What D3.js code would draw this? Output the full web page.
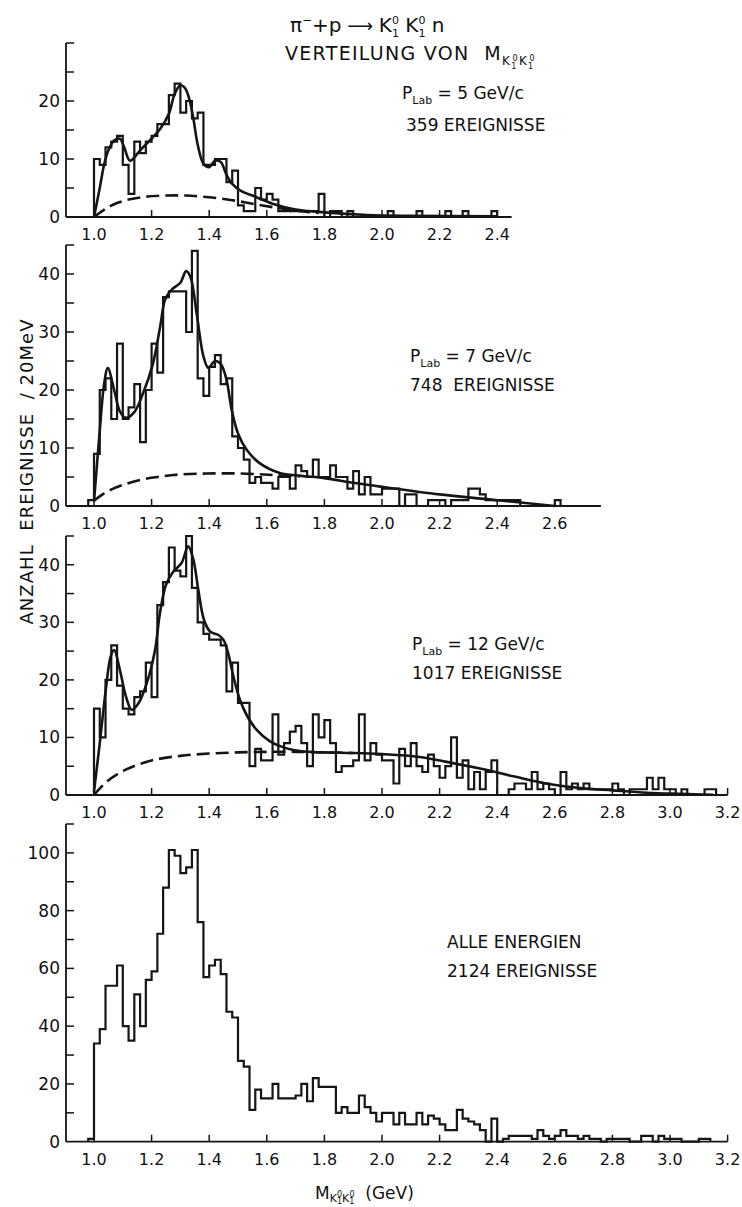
<!DOCTYPE html>
<html><head><meta charset="utf-8">
<script src="https://cdn.jsdelivr.net/npm/d3@7"></script>
<style>
body{margin:0;background:#fff}
svg{display:block}
text{font-family:"DejaVu Sans",sans-serif;fill:#111;white-space:pre}
</style>
</head><body>
<svg id="c" width="742" height="1207"></svg>
<script>
// ---------------- data ----------------
const binWidth = 0.02; // GeV (20 MeV)

const p1Start = 1.00;
const p1Counts = [10,9,12,13,14,9,4,13,11,13, 14,16,16,21,23,18,20,17,18,9,
  9,10,10,6,8,2,1,1,5,3, 4,3,1,1,1,1,1,1,1,4, 0,1,1,0,1,0,0,0,0,0,
  0,1,0,0,0,0,1,0,0,0, 0,1,0,0,1,0,0,0,0,1];
const p1Fit = [[1.00,0],[1.02,5],[1.035,9],[1.05,11.5],[1.07,13.2],[1.09,13.5],[1.105,12],[1.125,9.7],
  [1.16,11.5],[1.19,13],[1.23,15.2],[1.26,17.8],[1.28,21.2],[1.30,22.7],[1.315,22.3],[1.33,20.5],
  [1.345,17],[1.36,12.5],[1.38,9.2],[1.40,8.6],[1.42,9.7],[1.44,9.5],[1.46,7.3],[1.48,5.7],[1.51,4.5],
  [1.56,3.5],[1.62,2.3],[1.70,1.3],[1.80,0.8],[1.95,0.35],[2.10,0.2],[2.40,0.1]];
const p1Bg = [[1.00,0],[1.04,1.4],[1.08,2.4],[1.12,3.0],[1.18,3.5],[1.25,3.7],[1.32,3.7],[1.40,3.4],
  [1.48,2.9],[1.55,2.3],[1.62,1.7],[1.70,1.1],[1.78,0.7]];

const p2Start = 0.98;
const p2Counts = [1,9,20,22,15,28,15,17,21,11, 20,28,23,36,37,37,37,30,44,22,
  19,24,26,21,22,12,10,8,4,5, 4,4,3,5,5,3,7,6,5,8,
  5,5,7,5,5,3,6,2,5,2, 2,3,3,3,0,2,2,0,0,1, 1,1,0,1,1,1,3,3,2,1,
  1,1,1,1,1,0,0,0,0,0, 0,1];
const p2Fit = [[1.00,0.8],[1.02,13],[1.035,21],[1.048,23.8],[1.07,20],[1.09,16.3],[1.11,15.2],[1.14,16.2],
  [1.17,19.4],[1.205,24.6],[1.23,31],[1.247,35.6],[1.27,37.3],[1.30,38.5],[1.32,40.5],[1.335,39.5],
  [1.357,33],[1.38,25.8],[1.397,23.8],[1.42,25],[1.44,24.5],[1.46,21.8],[1.478,16.6],[1.50,12.5],
  [1.53,9.7],[1.575,7.4],[1.645,5.7],[1.72,5.2],[1.80,4.8],[1.90,4.0],[2.00,3.3],[2.20,2.0],
  [2.40,1.0],[2.60,0]];
const p2Bg = [[1.00,0.9],[1.03,2.0],[1.067,3.0],[1.11,3.8],[1.16,4.5],[1.22,5.0],[1.275,5.35],
  [1.39,5.6],[1.506,5.6],[1.62,5.35],[1.715,5.1]];

const p3Start = 1.00;
const p3Counts = [15,10,20,26,19,15,14,17,18,23, 17,33,37,43,39,38,45,36,30,28,
  27,27,26,18,23,16,16,5,8,6, 6,14,7,9,11,12,
  9,5,14,10,13,9,4,5,5,6, 14,6,9,7,6,6,2,8,5,9, 5,4,7,5,3,5,10,3,6,1,
  4,1,4,6,0,0,1,2,2,1, 4,1,2,1,0,4,1,2,1,2, 1,1,1,1,2,1,0,1,1,1,
  3,1,3,1,1,0,1,0,0,0, 1,1];
const p3Fit = [[1.00,0.6],[1.02,9],[1.041,18.3],[1.058,24.1],[1.07,25.2],[1.09,21.7],[1.111,17.1],
  [1.131,14.8],[1.154,15.9],[1.183,19.4],[1.212,25.2],[1.229,31.6],[1.25,36.5],[1.275,38.8],
  [1.304,40.3],[1.327,43.2],[1.345,40.9],[1.362,35.7],[1.382,30.4],[1.403,28.4],[1.432,27.8],
  [1.449,27],[1.466,24.6],[1.484,20.6],[1.507,16.5],[1.53,13.9],[1.565,11.3],[1.611,9.3],
  [1.669,8.1],[1.72,7.6],[1.80,7.4],[1.90,7.3],[2.00,7.1],[2.13,6.6],[2.22,5.8],[2.34,4.6],
  [2.46,3.2],[2.57,2.0],[2.69,1.2],[2.80,0.8],[2.92,0.4],[3.04,0.2],[3.15,0.05]];
const p3Bg = [[1.00,0],[1.044,2.3],[1.11,4.4],[1.20,6.0],[1.30,6.8],[1.40,7.2],[1.50,7.4],
  [1.60,7.5],[1.70,7.5],[1.80,7.4],[1.90,7.3]];

const p4Start = 0.98;
const p4Counts = [1,34,39,54,54,61,40,35,51,40, 56,59,72,88,101,99,93,95,101,76,
  57,61,63,58,45,43,28,26,11,18, 15,15,20,15,15,15,16,20,14,22,
  19,19,19,10,12,10,10,16,12,10, 7,10,10,6,10,6,6,10,6,9,
  8,6,4,4,11,8,7,6,4,0, 8,0,1,2,2,2,2,1,4,2,
  1,2,4,2,2,1,2,1,1,0, 1,1,1,1,0,0,2,2,0,2,
  1,1,1,0,0,0,1,1];

const xTicksShort = ["1.0","1.2","1.4","1.6","1.8","2.0","2.2","2.4"];
const xTicksMid = ["1.0","1.2","1.4","1.6","1.8","2.0","2.2","2.4","2.6"];
const xTicksLong = ["1.0","1.2","1.4","1.6","1.8","2.0","2.2","2.4","2.6","2.8","3.0","3.2"];
const yLabels1 = [0,10,20];
const yLabels23 = [0,10,20,30,40];
const yLabels4 = [0,20,40,60,80,100];

// ---------------- drawing ----------------
const svg = d3.select("#c");
const ink = "#151515";
const x = d3.scaleLinear().domain([1.0, 3.2]).range([94, 727.6]);
const axisLeft = 66;

function rich(x0, y0, segs, opts) {
  opts = opts || {};
  const t = svg.append("text").attr("x", x0).attr("y", y0).attr("text-anchor", opts.anchor || "start");
  if (opts.ls) t.attr("letter-spacing", opts.ls);
  let prev = 0;
  segs.forEach(s => {
    const o = s.o || 0;
    const ts = t.append("tspan").text(s.t).attr("font-size", s.s).attr("dy", o - prev);
    if (s.dx) ts.attr("dx", s.dx);
    prev = o;
  });
  return t;
}

const panels = [
  {start:p1Start, counts:p1Counts, fit:p1Fit, bg:p1Bg, yMax:30, y0:217, y1:43, xEnd:2.45,
   ticks:xTicksShort, labels:yLabels1, minor:5},
  {start:p2Start, counts:p2Counts, fit:p2Fit, bg:p2Bg, yMax:45, y0:506, y1:245, xEnd:2.76,
   ticks:xTicksMid, labels:yLabels23, minor:5},
  {start:p3Start, counts:p3Counts, fit:p3Fit, bg:p3Bg, yMax:45, y0:795, y1:536, xEnd:3.2,
   ticks:xTicksLong, labels:yLabels23, minor:5},
  {start:p4Start, counts:p4Counts, fit:null, bg:null, yMax:110, y0:1141.7, y1:824, xEnd:3.2,
   ticks:xTicksLong, labels:yLabels4, minor:10}
];

panels.forEach(p => {
  const y = d3.scaleLinear().domain([0, p.yMax]).range([p.y0, p.y1]);
  const g = svg.append("g");
  g.append("line").attr("x1", axisLeft).attr("x2", x(p.xEnd)).attr("y1", p.y0).attr("y2", p.y0)
    .attr("stroke", ink).attr("stroke-width", 1.8);
  g.append("line").attr("x1", axisLeft).attr("x2", axisLeft).attr("y1", p.y0).attr("y2", p.y1)
    .attr("stroke", ink).attr("stroke-width", 1.8);
  p.ticks.forEach(t => {
    const v = +t;
    g.append("line").attr("x1", x(v)).attr("x2", x(v)).attr("y1", p.y0).attr("y2", p.y0 - 7)
      .attr("stroke", ink).attr("stroke-width", 1.5);
    g.append("text").attr("x", x(v)).attr("y", p.y0 + 23).attr("text-anchor", "middle")
      .attr("font-size", 16).text(t);
  });
  d3.range(0, p.yMax + 0.001, p.minor).forEach(v => {
    if (v === 0) return;
    g.append("line").attr("x1", axisLeft).attr("x2", axisLeft + 8).attr("y1", y(v)).attr("y2", y(v))
      .attr("stroke", ink).attr("stroke-width", 1.5);
  });
  p.labels.forEach(v => {
    g.append("text").attr("x", 60).attr("y", y(v) + 6).attr("text-anchor", "end")
      .attr("font-size", 17).text(v);
  });
  const pts = [[p.start, 0]];
  p.counts.forEach((c, i) => pts.push([p.start + i * binWidth, c]));
  pts.push([p.start + p.counts.length * binWidth, 0]);
  const step = d3.line().x(d => x(d[0])).y(d => y(d[1])).curve(d3.curveStepAfter);
  g.append("path").attr("d", step(pts)).attr("fill", "none").attr("stroke", ink)
    .attr("stroke-width", 2.2).attr("stroke-linejoin", "miter");
  const smooth = d3.line().x(d => x(d[0])).y(d => y(d[1])).curve(d3.curveCatmullRom.alpha(0.5));
  if (p.bg) g.append("path").attr("d", smooth(p.bg)).attr("fill", "none").attr("stroke", ink)
    .attr("stroke-width", 2.6).attr("stroke-dasharray", "13,6");
  if (p.fit) g.append("path").attr("d", smooth(p.fit)).attr("fill", "none").attr("stroke", ink)
    .attr("stroke-width", 2.6);
});

// ---------------- texts ----------------
rich(290, 32, [{t:"π",s:20},{t:"−",s:12,o:-8},{t:"+p",s:20,o:0},{t:" ⟶ ",s:18},{t:"K",s:20},
  {t:"1",s:11,o:5},{t:"0",s:11,o:-8,dx:-7},{t:" K",s:20,o:0},{t:"1",s:11,o:5},{t:"0",s:11,o:-8,dx:-7},
  {t:" n",s:20,o:0}]);
rich(285, 60, [{t:"VERTEILUNG VON  M",s:19},{t:"K",s:12,o:5},{t:"1",s:8,o:9},{t:"0",s:8,o:1,dx:-5},
  {t:"K",s:12,o:5},{t:"1",s:8,o:9},{t:"0",s:8,o:1,dx:-5}], {ls:1.3});

rich(402, 99, [{t:"P",s:17},{t:"Lab",s:11,o:5},{t:" = 5 GeV/c",s:17,o:0}]);
rich(406, 131, [{t:"359 EREIGNISSE",s:17}]);
rich(410, 362, [{t:"P",s:17},{t:"Lab",s:11,o:5},{t:" = 7 GeV/c",s:17,o:0}]);
rich(410, 391, [{t:"748  EREIGNISSE",s:17}]);
rich(412, 650, [{t:"P",s:17},{t:"Lab",s:11,o:5},{t:" = 12 GeV/c",s:17,o:0}]);
rich(412, 679, [{t:"1017 EREIGNISSE",s:17}]);
rich(447, 948, [{t:"ALLE ENERGIEN",s:17}]);
rich(447, 977, [{t:"2124 EREIGNISSE",s:17}]);

rich(315, 1199, [{t:"M",s:17},{t:"K",s:11,o:3},{t:"1",s:8,o:5},{t:"0",s:8,o:-2,dx:-5},
  {t:"K",s:11,o:3},{t:"1",s:8,o:5},{t:"0",s:8,o:-2,dx:-5},{t:"  (GeV)",s:17,o:0}]);

svg.append("text").attr("transform", "translate(33,472) rotate(-90)").attr("text-anchor", "middle")
  .attr("font-size", 18).attr("textLength", 305).attr("lengthAdjust", "spacing")
  .text("ANZAHL  EREIGNISSE  / 20MeV");
</script>
</body></html>
